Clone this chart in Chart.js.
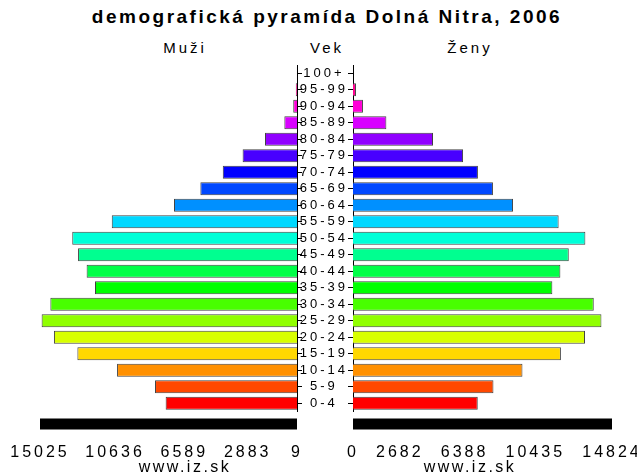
<!DOCTYPE html>
<html>
<head>
<meta charset="utf-8">
<script src="https://cdn.jsdelivr.net/npm/chart.js@4"></script>
<style>
  body { margin: 0; background: #fff; }
  #wrap { position: relative; width: 637px; height: 475px; overflow: hidden; font-family: "Liberation Sans", Arial, sans-serif; color: #000; }
  .txt { position: absolute; white-space: nowrap; transform: translateX(-50%); }
  #title { left: 327px; top: 6px; font-weight: bold; font-size: 19px; line-height: 22px; letter-spacing: 2.5px; }
  .head { top: 39px; font-size: 15px; line-height: 18px; letter-spacing: 3px; }
  .foot { top: 458px; font-size: 16px; line-height: 18px; letter-spacing: 2.5px; }
  canvas { position: absolute; top: 0; }
  #men-chart { left: 0; }
  #women-chart { left: 298px; }
</style>
</head>
<body>
<div id="wrap">
  <div class="txt" id="title">demografická pyramída Dolná Nitra, 2006</div>
  <div class="txt head" style="left:185px">Muži</div>
  <div class="txt head" style="left:327px">Vek</div>
  <div class="txt head" style="left:470px">Ženy</div>
  <canvas id="men-chart" width="305" height="475"></canvas>
  <canvas id="women-chart" width="339" height="475"></canvas>
  <div class="txt foot" style="left:185px">www.iz.sk</div>
  <div class="txt foot" style="left:470px">www.iz.sk</div>
</div>
<script>
// age groups, bottom to top
const ageGroups = ['0-4','5-9','10-14','15-19','20-24','25-29','30-34','35-39','40-44','45-49',
  '50-54','55-59','60-64','65-69','70-74','75-79','80-84','85-89','90-94','95-99','100+'];

// population per age group
const men = [7680, 8300, 10520, 12840, 14210, 14930, 14420, 11810, 12300, 12800,
  13140, 10830, 7190, 5650, 4340, 3180, 1870, 740, 220, 70, 9];
const women = [7140, 8040, 9700, 11900, 13280, 14220, 13780, 11410, 11870, 12350,
  13300, 11770, 9160, 8010, 7150, 6300, 4580, 1910, 570, 170, 0];

// tick labels printed under each half
const menTicks = [15025, 10636, 6589, 2883, 9];
const womenTicks = [0, 2682, 6388, 10435, 14824];

const barColors = ['#ff0000','#ff4800','#ff9000','#ffd800','#d8ff00','#90ff00','#48ff00',
  '#00ff00','#00ff48','#00ff90','#00ffd8','#00d8ff','#0090ff','#0048ff','#0000ff',
  '#4800ff','#9000ff','#d800ff','#ff00d8','#ff0090','#ff0048'];

Chart.defaults.font.family = '"Liberation Sans", Arial, sans-serif';
Chart.defaults.color = '#000';

// the original uses very wide letter spacing
const spacing = {
  id: 'spacing',
  beforeUpdate(chart) { chart.ctx.letterSpacing = '3px'; },
  beforeDraw(chart) { chart.ctx.letterSpacing = '3px'; }
};

// empty space between the bars and the black band
const gapAxis = {
  axis: 'x', position: 'bottom', weight: 0, display: true,
  grid: { display: false }, border: { display: false }, ticks: { display: false },
  afterFit: s => { s.height = 7; s.paddingLeft = 0; s.paddingRight = 0; }
};

// black band under each half
const bandAxis = {
  axis: 'x', position: 'bottom', weight: 1, display: true, backgroundColor: '#000',
  grid: { display: false }, border: { display: false }, ticks: { display: false },
  afterFit: s => { s.height = 11; s.paddingLeft = 0; s.paddingRight = 0; }
};

function valueAxis(tickValues, max, reverse) {
  return {
    position: 'bottom', weight: 2, reverse: reverse, min: 0, max: max,
    grid: { display: false }, border: { display: false },
    afterBuildTicks: s => { s.ticks = tickValues.map(v => ({ value: v })); },
    afterFit: s => { s.height = 45.5; s.paddingLeft = 0; s.paddingRight = 0; },
    ticks: { autoSkip: false, maxRotation: 0, padding: 5, font: { size: 16 },
      callback: v => String(v) }
  };
}

function dataset(values) {
  return {
    data: values,
    backgroundColor: barColors,
    borderColor: '#404040',
    borderWidth: 1,
    barPercentage: 1,
    categoryPercentage: 0.8
  };
}

let menChart = new Chart(document.getElementById('men-chart'), {
  type: 'bar',
  data: { labels: ageGroups, datasets: [dataset(men)] },
  options: {
    indexAxis: 'y',
    responsive: false,
    animation: false,
    layout: { padding: { left: 40, top: 65, right: 0, bottom: 0 } },
    plugins: { legend: { display: false }, tooltip: { enabled: false } },
    scales: {
      x: valueAxis(menTicks, menTicks[0], true),
      band: bandAxis,
      gap: gapAxis,
      y: {
        position: 'right', reverse: true,
        grid: { offset: false, drawOnChartArea: false, drawTicks: true, tickLength: 5, color: '#000' },
        border: { display: true, color: '#000', width: 1 },
        ticks: { display: false, autoSkip: false },
        afterFit: s => { s.width = 8; s.paddingTop = 0; s.paddingBottom = 0; }
      }
    }
  },
  plugins: [spacing]
});

let womenChart = new Chart(document.getElementById('women-chart'), {
  type: 'bar',
  data: { labels: ageGroups, datasets: [dataset(women)] },
  options: {
    indexAxis: 'y',
    responsive: false,
    animation: false,
    layout: { padding: { left: 0, top: 65, right: 25, bottom: 0 } },
    plugins: { legend: { display: false }, tooltip: { enabled: false } },
    scales: {
      x: valueAxis(womenTicks, womenTicks[womenTicks.length - 1], false),
      band: bandAxis,
      gap: gapAxis,
      y: {
        position: 'left', reverse: true,
        grid: { offset: false, drawOnChartArea: false, drawTicks: true, tickLength: 5, color: '#000' },
        border: { display: true, color: '#000', width: 1 },
        ticks: { autoSkip: false, crossAlign: 'center', padding: 0, font: { size: 13 } },
        afterFit: s => { s.width = 55; s.paddingTop = 0; s.paddingBottom = 0; }
      }
    }
  },
  plugins: [spacing]
});
</script>
</body>
</html>
